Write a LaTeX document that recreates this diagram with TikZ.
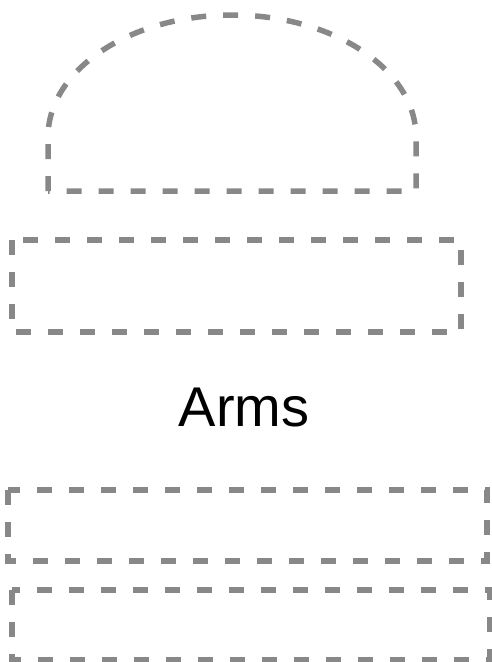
\documentclass[tikz,border=0pt]{standalone}
\usepackage{fontspec}
\setmainfont{Liberation Sans}
\usepackage{tikz}
\definecolor{cutgrey}{RGB}{136,136,136}

\begin{document}
\begin{tikzpicture}[x=1pt, y=-1pt,
    cutline/.style={draw=cutgrey, line width=5.5pt, dash pattern=on 15pt off 17pt},
    label/.style={font=\fontsize{56}{60}\selectfont, inner sep=0pt}]

    \useasboundingbox (0,0) rectangle (492,662);

    % head dome
    \draw[cutline] (48,191) -- (48,137) arc[start angle=180, end angle=0, x radius=184, y radius=-122]
        -- (416,191) -- cycle;

    % upper band
    \draw[cutline] (12,240) rectangle (461,332);

    \node[label] (arms) at (244,408) {Arms};

    % lower bands
    \draw[cutline] (8,490) rectangle (487,561);
    \draw[cutline] (12,590) rectangle (490,660);
\end{tikzpicture}
\end{document}
